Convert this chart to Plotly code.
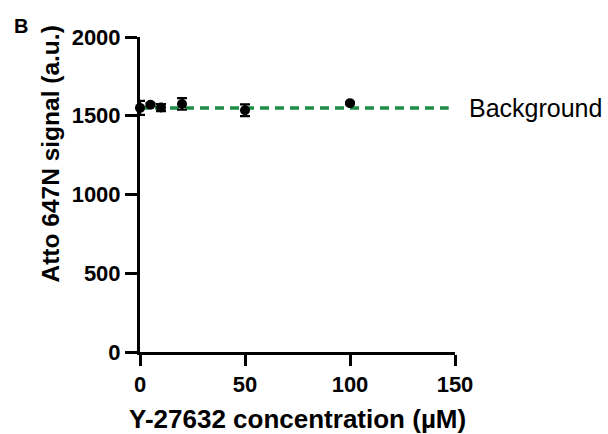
import plotly.graph_objects as go

# Data
concentration = [0, 5, 10, 20, 50, 100]
signal = [1550, 1570, 1552, 1575, 1535, 1580]
signal_err = [45, 8, 22, 37, 37, 6]
background_level = 1550
background_x = [0, 147]
x_ticks = [0, 50, 100, 150]
y_ticks = [0, 500, 1000, 1500, 2000]

FONT = "Liberation Sans, Arial, sans-serif"
GREEN = "#1E8C45"

fig = go.Figure()

fig.add_trace(go.Scatter(
    x=background_x, y=[background_level, background_level],
    mode="lines", line=dict(color=GREEN, width=3.5, dash="9px,6px"),
    hoverinfo="skip", showlegend=False, cliponaxis=False,
))

fig.add_trace(go.Scatter(
    x=concentration, y=signal, mode="markers",
    marker=dict(color="black", size=10),
    error_y=dict(type="data", array=signal_err, color="black", thickness=2.2, width=5),
    showlegend=False, cliponaxis=False,
))

fig.update_layout(
    width=608, height=434,
    margin=dict(l=140, r=153, t=37, b=82),
    plot_bgcolor="white", paper_bgcolor="white",
    font=dict(family=FONT, color="black"),
    xaxis=dict(
        range=[0, 150], tickvals=x_ticks, showgrid=False, zeroline=False,
        showline=True, linecolor="black", linewidth=3,
        ticks="outside", ticklen=11, tickwidth=3, tickcolor="black",
        tickfont=dict(size=22, family=FONT, weight="bold"),
    ),
    yaxis=dict(
        range=[0, 2000], tickvals=y_ticks, showgrid=False, zeroline=False,
        showline=True, linecolor="black", linewidth=3,
        ticks="outside", ticklen=12, tickwidth=3, tickcolor="black",
        tickfont=dict(size=22, family=FONT, weight="bold"),
    ),
    annotations=[
        dict(text="<b>Y-27632 concentration (µM)</b>", xref="paper", yref="paper",
             x=0.5, y=0, yshift=-67, xanchor="center", yanchor="middle",
             showarrow=False, font=dict(size=26, family=FONT)),
        dict(text="<b>Atto 647N signal (a.u.)</b>", xref="paper", yref="paper",
             x=0, xshift=-90, y=(0.5), yshift=40, textangle=-90,
             xanchor="center", yanchor="middle",
             showarrow=False, font=dict(size=24.5, family=FONT)),
        dict(text="Background", xref="x", yref="y", x=150, xshift=12,
             y=background_level, xanchor="left", yanchor="middle",
             showarrow=False, font=dict(size=25, family=FONT)),
        dict(text="<b>B</b>", xref="paper", yref="paper", x=0, xshift=-128,
             y=1, yshift=11, xanchor="left", yanchor="middle",
             showarrow=False, font=dict(size=20, family=FONT)),
    ],
)

fig.write_html(
    "out.html",
    config={"displayModeBar": False},
    post_script="document.body.style.margin='0';document.body.style.overflow='hidden';",
)
